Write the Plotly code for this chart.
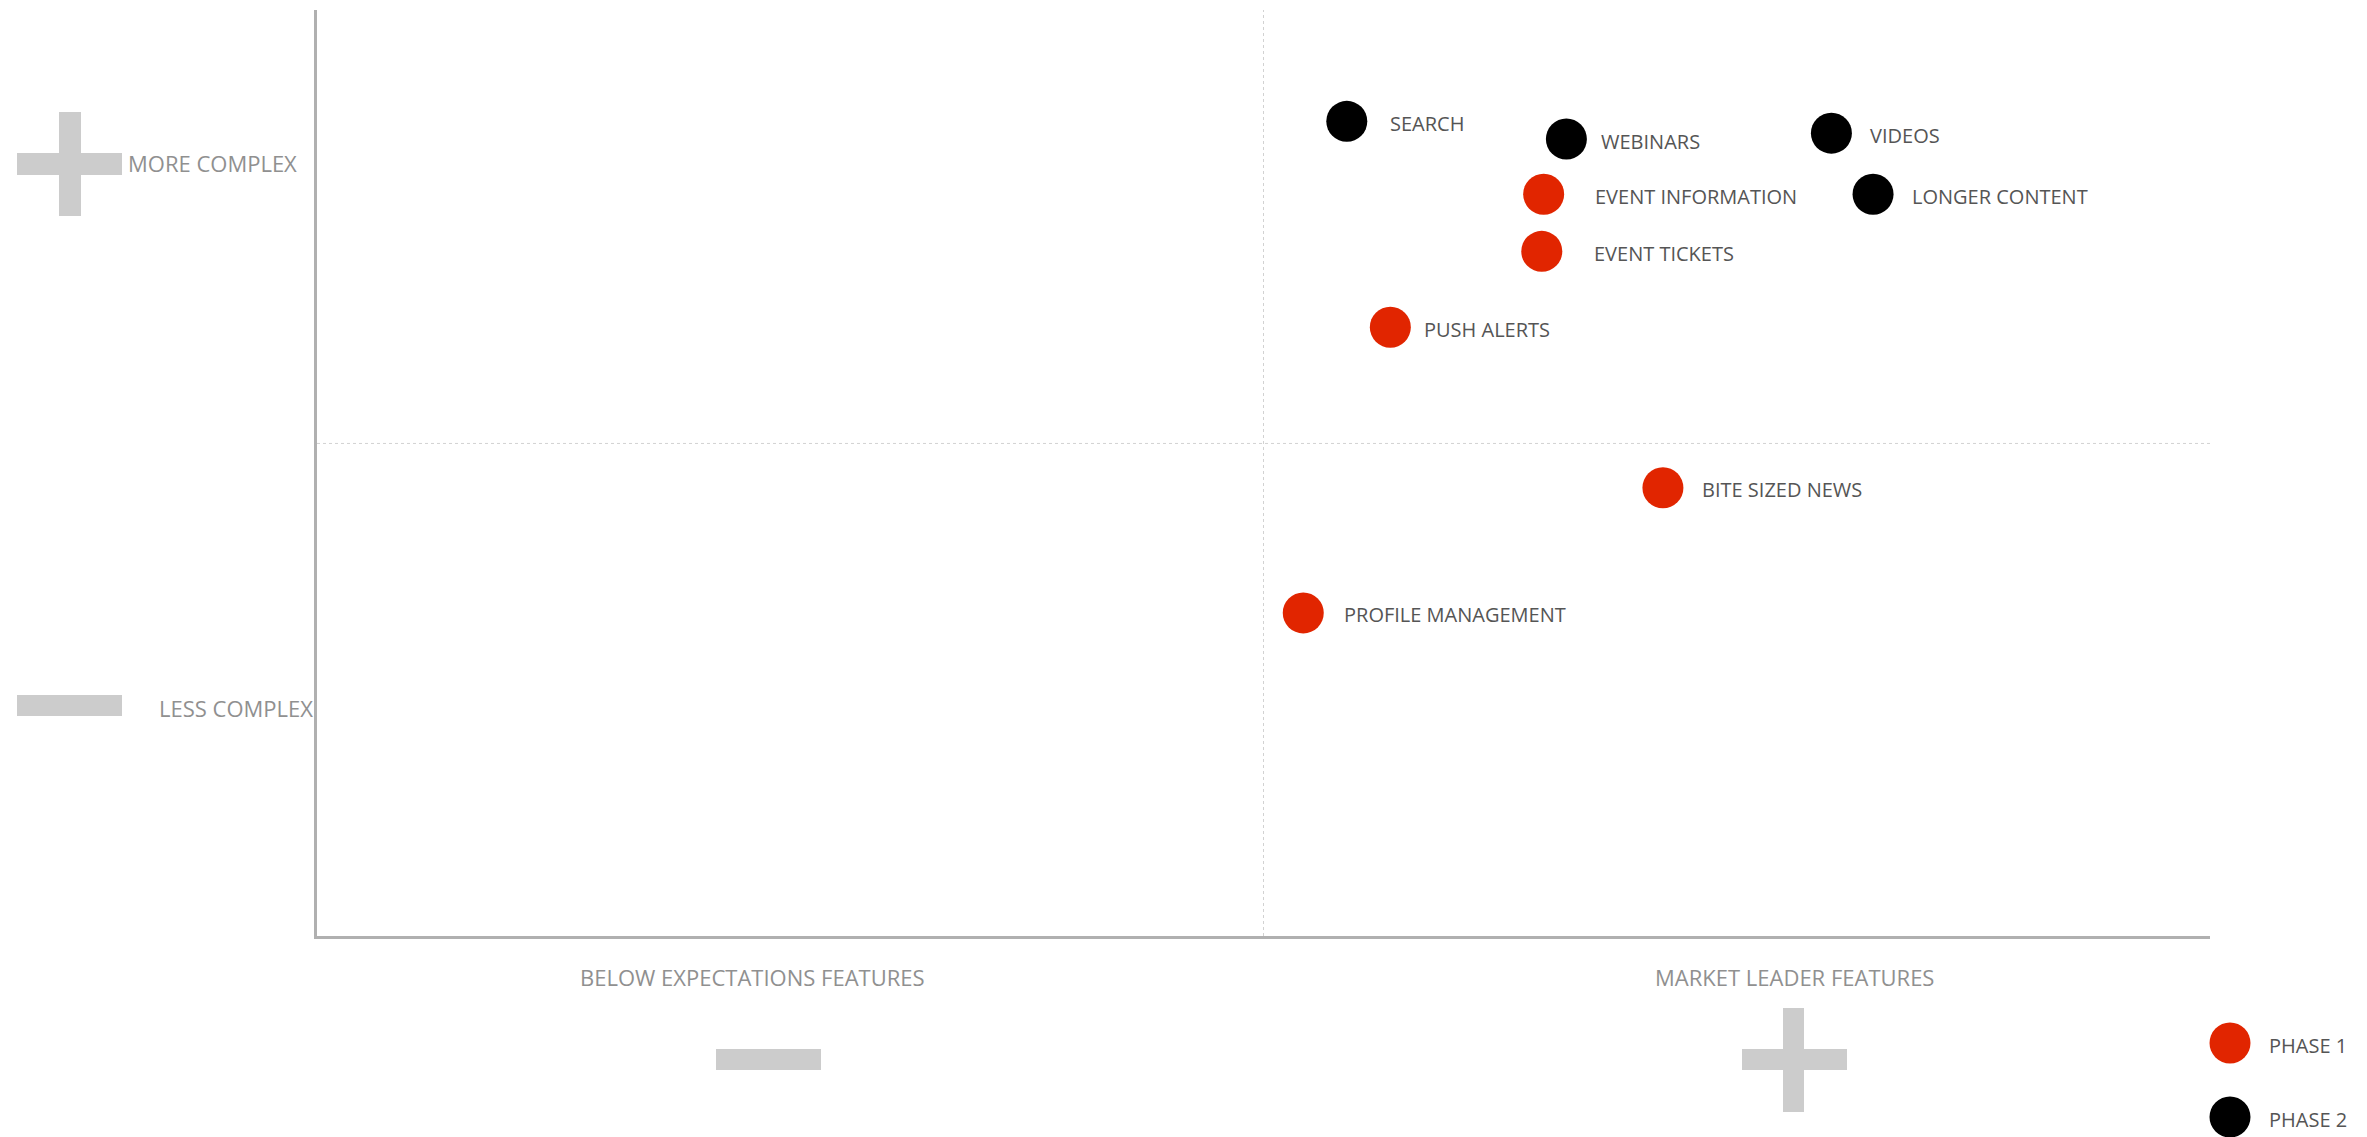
import plotly.graph_objects as go

# ---------------- data ----------------
FEATURES = ["SEARCH", "WEBINARS", "VIDEOS", "EVENT INFORMATION", "LONGER CONTENT",
            "EVENT TICKETS", "PUSH ALERTS", "BITE SIZED NEWS", "PROFILE MANAGEMENT"]
FEATURE_PHASE = ["PHASE 2", "PHASE 2", "PHASE 2", "PHASE 1", "PHASE 2",
                 "PHASE 1", "PHASE 1", "PHASE 1", "PHASE 1"]
MARKET_POSITION = [5.44, 6.60, 8.00, 6.48, 8.22, 6.47, 5.67, 7.11, 5.21]
COMPLEXITY = [8.27, 8.09, 8.15, 7.53, 7.53, 6.95, 6.18, 4.55, 3.28]
PHASES = ["PHASE 1", "PHASE 2"]
X_AXIS_LABELS = ["BELOW EXPECTATIONS FEATURES", "MARKET LEADER FEATURES"]
Y_AXIS_LABELS = ["MORE COMPLEX", "LESS COMPLEX"]
X_RANGE = [0, 10]
Y_RANGE = [0, 9.4]
X_MID = 5
Y_MID = 5

# ---------------- styles / layout ----------------
PHASE_COLORS = {"PHASE 1": "#e12500", "PHASE 2": "#000000"}
LABEL_SHIFT = {"SEARCH": 41, "WEBINARS": 33, "VIDEOS": 37, "EVENT INFORMATION": 49,
               "LONGER CONTENT": 37, "EVENT TICKETS": 50, "PUSH ALERTS": 32,
               "BITE SIZED NEWS": 37, "PROFILE MANAGEMENT": 39}
PAGE_MARGIN = 8  # default body margin of the html page
W, H = 2367 - PAGE_MARGIN, 1137 - PAGE_MARGIN
# plot area in screen pixels
PLOT_L, PLOT_R, PLOT_T, PLOT_B = 317, 2210, 10, 936
FONT = "Open Sans, Noto Sans, Arial, sans-serif"
SIGN_COLOR = "#cccccc"
AXIS_TEXT = "#909090"
LABEL_TEXT = "#555555"


def pxx(xp):
    return (xp - PLOT_L) / (PLOT_R - PLOT_L)


def pxy(yp):
    return (PLOT_B - yp) / (PLOT_B - PLOT_T)


fig = go.Figure()

for phase in PHASES:
    idx = [i for i, p in enumerate(FEATURE_PHASE) if p == phase]
    fig.add_trace(go.Scatter(
        x=[MARKET_POSITION[i] for i in idx],
        y=[COMPLEXITY[i] for i in idx],
        mode="markers",
        name=phase,
        text=[FEATURES[i] for i in idx],
        marker=dict(size=41, color=PHASE_COLORS[phase], line=dict(width=0)),
        cliponaxis=False,
        showlegend=False,
        hovertemplate="%{text}<extra>" + phase + "</extra>",
    ))

annotations = []
for i, name in enumerate(FEATURES):
    annotations.append(dict(
        x=MARKET_POSITION[i], y=COMPLEXITY[i], xref="x", yref="y",
        text=name, showarrow=False, xanchor="left", yanchor="middle",
        xshift=LABEL_SHIFT[name], yshift=-2,
        font=dict(family=FONT, size=20, color=LABEL_TEXT),
    ))

# axis labels
annotations += [
    dict(x=pxx(126), y=pxy(163), xref="paper", yref="paper", text=Y_AXIS_LABELS[0],
         showarrow=False, xanchor="left", yanchor="middle",
         font=dict(family=FONT, size=22, color=AXIS_TEXT)),
    dict(x=pxx(157), y=pxy(708), xref="paper", yref="paper", text=Y_AXIS_LABELS[1],
         showarrow=False, xanchor="left", yanchor="middle",
         font=dict(family=FONT, size=22, color=AXIS_TEXT)),
    dict(x=pxx(752), y=pxy(977), xref="paper", yref="paper", text=X_AXIS_LABELS[0],
         showarrow=False, xanchor="center", yanchor="middle",
         font=dict(family=FONT, size=22, color=AXIS_TEXT)),
    dict(x=pxx(1794), y=pxy(977), xref="paper", yref="paper", text=X_AXIS_LABELS[1],
         showarrow=False, xanchor="center", yanchor="middle",
         font=dict(family=FONT, size=22, color=AXIS_TEXT)),
]

shapes = [
    # quadrant midlines
    dict(type="line", xref="x", yref="y", x0=X_MID, x1=X_MID, y0=Y_RANGE[0], y1=Y_RANGE[1],
         line=dict(color="#d2d2d2", width=1, dash="dot"), layer="below"),
    dict(type="line", xref="x", yref="y", x0=X_RANGE[0], x1=X_RANGE[1], y0=Y_MID, y1=Y_MID,
         line=dict(color="#d2d2d2", width=1, dash="dot"), layer="below"),
]


def rect(x0, x1, y0, y1):
    return dict(type="rect", xref="paper", yref="paper",
                x0=pxx(x0), x1=pxx(x1), y0=pxy(y1), y1=pxy(y0),
                fillcolor=SIGN_COLOR, line=dict(width=0), layer="above")


# plus / minus signs
shapes += [
    rect(17, 122, 153, 175), rect(59, 81, 112, 216),      # left plus
    rect(17, 122, 695, 716),                              # left minus
    rect(716, 821, 1049, 1070),                           # bottom minus
    rect(1742, 1847, 1049, 1070), rect(1783, 1804, 1008, 1112),  # bottom plus
]

# custom legend (large round swatches)
LEGEND_X, LEGEND_Y0, LEGEND_DY = 2230, 1043, 74
for k, phase in enumerate(PHASES):
    cy = LEGEND_Y0 + k * LEGEND_DY
    shapes.append(dict(type="circle", xref="paper", yref="paper",
                       xsizemode="pixel", ysizemode="pixel",
                       xanchor=pxx(LEGEND_X), yanchor=pxy(cy),
                       x0=-20.5, x1=20.5, y0=-20.5, y1=20.5,
                       fillcolor=PHASE_COLORS[phase], line=dict(width=0)))
    annotations.append(dict(x=pxx(2267), y=pxy(cy + 2), xref="paper", yref="paper",
                            text=phase, showarrow=False, xanchor="left", yanchor="middle",
                            font=dict(family=FONT, size=20, color=LABEL_TEXT)))

fig.update_layout(
    width=W, height=H, autosize=False,
    margin=dict(l=PLOT_L - PAGE_MARGIN, r=W + PAGE_MARGIN - PLOT_R,
                t=PLOT_T - PAGE_MARGIN, b=H + PAGE_MARGIN - PLOT_B, pad=0),
    paper_bgcolor="white", plot_bgcolor="white",
    showlegend=False,
    font=dict(family=FONT),
    xaxis=dict(range=X_RANGE, showgrid=False, zeroline=False, showticklabels=False,
               ticks="", showline=True, linecolor="#b0b0b0", linewidth=3, fixedrange=True),
    yaxis=dict(range=Y_RANGE, showgrid=False, zeroline=False, showticklabels=False,
               ticks="", showline=True, linecolor="#b0b0b0", linewidth=3, fixedrange=True),
    shapes=shapes,
    annotations=annotations,
)

fig.write_html("out.html")
